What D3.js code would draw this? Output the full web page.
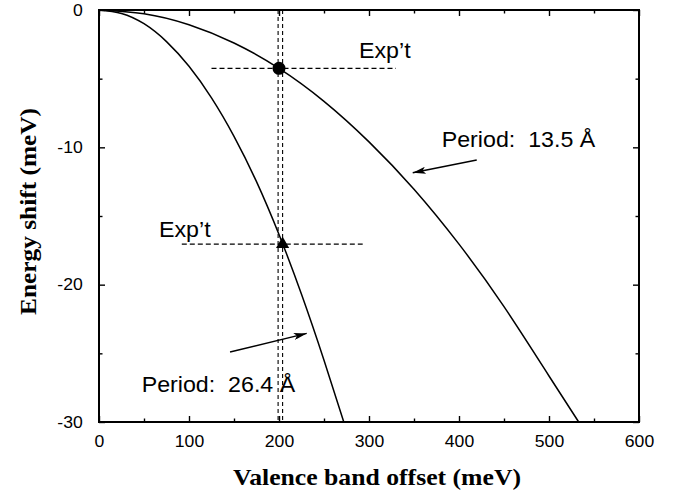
<!DOCTYPE html>
<html>
<head>
<meta charset="utf-8">
<script src="https://cdn.jsdelivr.net/npm/d3@7"></script>
<style>
  body { margin: 0; background: #fff; }
  .tick text { font-family: "Liberation Sans", Arial, sans-serif; }
</style>
</head>
<body>
<div id="dataviz"></div>
<script>
// data
var offset135 = [0, 50, 100, 150, 200, 250, 300, 350, 400, 450, 500, 533];
var shift135 = [0, -0.27, -1.07, -2.4, -4.25, -6.65, -9.6, -13.05, -17.05, -21.6, -26.65, -30];
var offset264 = [0, 25, 50, 75, 100, 125, 150, 175, 200, 225, 250, 272];
var shift264 = [0, -0.25, -1.0, -2.3, -4.1, -6.4, -9.2, -12.5, -16.35, -20.7, -25.5, -30];

var expCircle = { k: 200, e: -4.25 };
var expTriangle = { k: 204, e: -17.05 };
var expOffsets = [199, 204];          // vertical dashed lines
var expHoriz = [
    { e: -4.25, k0: 125, k1: 330 },
    { e: -17.05, k0: 92, k1: 293 }
];

var xTicks = [0, 100, 200, 300, 400, 500, 600];
var xMinor = [50, 150, 250, 350, 450, 550];
var yTicks = [0, -10, -20, -30];
var yMinor = [-5, -15, -25];

var labels = [
    { text: "Exp\u2019t", k: 288.9, e: -3.52 },
    { text: "Exp\u2019t", k: 66.7, e: -16.51 },
    { text: "Period:\u00a0 13.5 \u00c5", k: 380.8, e: -9.96 },
    { text: "Period:\u00a0 26.4 \u00c5", k: 47.4, e: -27.8 }
];
var arrows = [
    { k0: 419.7, e0: -10.92, k1: 348.6, e1: -11.85 },
    { k0: 145.6, e0: -24.9, k1: 230.8, e1: -23.55 }
];

var xTitle = "Valence band offset (meV)";
var yTitle = "Energy shift (meV)";

/**
 * setup
 */
var margin = { top: 10, right: 39, bottom: 73, left: 99 };
var widthFull = 678;
var heightFull = 495;
var width = widthFull - margin.left - margin.right;
var height = heightFull - margin.top - margin.bottom;

var root = d3.select("#dataviz").append("svg")
    .attr("width", widthFull)
    .attr("height", heightFull);

var defs = root.append("defs");
defs.append("marker")
    .attr("id", "head")
    .attr("viewBox", "0 0 13 7")
    .attr("refX", 13)
    .attr("refY", 3.5)
    .attr("markerUnits", "userSpaceOnUse")
    .attr("markerWidth", 14)
    .attr("markerHeight", 7)
    .attr("orient", "auto")
    .append("path")
    .attr("d", "M0,0 L13,3.5 L0,7 L3,3.5 Z")
    .attr("fill", "#000");

var svg = root.append("g")
    .attr("transform", "translate(" + margin.left + "," + margin.top + ")");

var x = d3.scaleLinear().domain([0, 600]).range([0, width]);
var y = d3.scaleLinear().domain([-30, 0]).range([height, 0]);

var sx = 1.08; // horizontal stretch of sans text in the scan

// bottom axis with labels
var gx = svg.append("g")
    .attr("class", "x-axis")
    .attr("transform", "translate(0," + height + ")")
    .call(d3.axisBottom(x).tickValues(xTicks).tickSize(-6).tickPadding(13).tickFormat(d => String(d)));
gx.selectAll("text").attr("font-size", 16.3).attr("fill", "#000").attr("transform", "scale(" + sx + ",1)");

svg.append("g")
    .attr("transform", "translate(0," + height + ")")
    .call(d3.axisBottom(x).tickValues(xMinor).tickSize(-3.5).tickFormat(""));

// top axis
svg.append("g")
    .call(d3.axisTop(x).tickValues(xTicks).tickSize(-6).tickFormat(""));
svg.append("g")
    .call(d3.axisTop(x).tickValues(xMinor).tickSize(-3.5).tickFormat(""));

// left axis
var gy = svg.append("g")
    .attr("class", "y-axis")
    .call(d3.axisLeft(y).tickValues(yTicks).tickSize(-6).tickPadding(15).tickFormat(d => String(d)));
gy.selectAll("text").attr("font-size", 16.3).attr("fill", "#000").attr("transform", "scale(" + sx + ",1)");
svg.append("g")
    .call(d3.axisLeft(y).tickValues(yMinor).tickSize(-3.5).tickFormat(""));

// right axis
svg.append("g")
    .attr("transform", "translate(" + width + ",0)")
    .call(d3.axisRight(y).tickValues(yTicks).tickSize(-6).tickFormat(""));
svg.append("g")
    .attr("transform", "translate(" + width + ",0)")
    .call(d3.axisRight(y).tickValues(yMinor).tickSize(-3.5).tickFormat(""));

svg.selectAll(".domain").remove();
svg.selectAll(".tick line").attr("stroke", "#000").attr("stroke-width", 1.4);

// frame
svg.append("rect")
    .attr("x", 0).attr("y", 0)
    .attr("width", width).attr("height", height)
    .attr("fill", "none")
    .attr("stroke", "#000")
    .attr("stroke-width", 2);

// dashed guides
svg.selectAll(".vguide").data(expOffsets).enter().append("line")
    .attr("class", "vguide")
    .attr("x1", d => x(d)).attr("x2", d => x(d))
    .attr("y1", y(0)).attr("y2", y(-30))
    .attr("stroke", "#000").attr("stroke-width", 1.1)
    .style("stroke-dasharray", "4,3");

svg.selectAll(".hguide").data(expHoriz).enter().append("line")
    .attr("class", "hguide")
    .attr("x1", d => x(d.k0)).attr("x2", d => x(d.k1))
    .attr("y1", d => y(d.e)).attr("y2", d => y(d.e))
    .attr("stroke", "#000").attr("stroke-width", 1.1)
    .style("stroke-dasharray", "5,3");

// curves
function trace(ks, es) {
    var data = ks.map((k, i) => ({ k: k, e: es[i] }));
    var line = d3.line()
        .x(d => x(d.k))
        .y(d => y(d.e))
        .curve(d3.curveNatural);
    svg.append("path")
        .datum(data)
        .attr("class", "line")
        .attr("fill", "none")
        .attr("stroke", "#000")
        .attr("stroke-width", 1.5)
        .attr("d", line);
}
trace(offset135, shift135);
trace(offset264, shift264);

// experimental points
svg.append("circle")
    .attr("cx", x(expCircle.k))
    .attr("cy", y(expCircle.e))
    .attr("r", 6.5)
    .attr("fill", "#000");

svg.append("path")
    .attr("d", d3.symbol().type(d3.symbolTriangle).size(75)())
    .attr("transform", "translate(" + x(expTriangle.k) + "," + y(expTriangle.e) + ")")
    .attr("fill", "#000");

// arrows
svg.selectAll(".arrow").data(arrows).enter().append("line")
    .attr("class", "arrow")
    .attr("x1", d => x(d.k0)).attr("y1", d => y(d.e0))
    .attr("x2", d => x(d.k1)).attr("y2", d => y(d.e1))
    .attr("stroke", "#000").attr("stroke-width", 1.4)
    .attr("marker-end", "url(#head)");

// annotation text
svg.selectAll(".note").data(labels).enter().append("text")
    .attr("class", "note")
    .attr("transform", d => "translate(" + x(d.k) + "," + y(d.e) + ") scale(" + sx + ",1)")
    .attr("font-family", "'Liberation Sans', Arial, sans-serif")
    .attr("font-size", 21.5)
    .attr("fill", "#000")
    .text(d => d.text);

// axis titles
root.append("text")
    .attr("x", 377)
    .attr("y", 485)
    .attr("text-anchor", "middle")
    .attr("font-family", "'Liberation Serif', 'DejaVu Serif', serif")
    .attr("font-weight", "bold")
    .attr("font-size", 23)
    .attr("textLength", 288)
    .attr("lengthAdjust", "spacingAndGlyphs")
    .text(xTitle);

root.append("text")
    .attr("transform", "translate(36,211.5) rotate(-90)")
    .attr("text-anchor", "middle")
    .attr("font-family", "'Liberation Serif', 'DejaVu Serif', serif")
    .attr("font-weight", "bold")
    .attr("font-size", 23)
    .attr("textLength", 207)
    .attr("lengthAdjust", "spacingAndGlyphs")
    .text(yTitle);
</script>
</body>
</html>
